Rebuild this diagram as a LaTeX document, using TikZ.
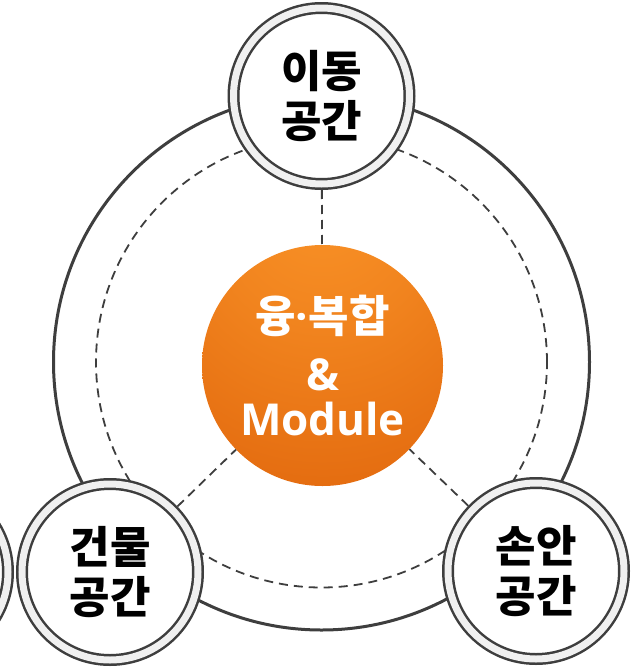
\documentclass[tikz,border=0pt]{standalone}
\usepackage{fontspec}
\usepackage{tikz}
\usetikzlibrary{positioning,calc}
\newfontfamily\krfont{Noto Sans CJK KR}
\newfontfamily\latinfont{Open Sans}
\definecolor{ringgray}{RGB}{62,62,62}
\definecolor{bandgray}{RGB}{240,240,240}
\definecolor{orgtop}{RGB}{250,148,40}
\definecolor{orgmid}{RGB}{228,108,16}
\definecolor{orgdark}{RGB}{198,86,8}
\pgfdeclareradialshading{orangeball}{\pgfpoint{0bp}{38bp}}{color(0bp)=(orgtop); color(22bp)=(orgtop!60!orgmid); color(48bp)=(orgmid); color(75bp)=(orgmid!70!orgdark); color(92bp)=(orgdark); color(110bp)=(orgdark)}

\begin{document}
\begin{tikzpicture}[x=1pt,y=-1pt,
  spacering/.style={circle,draw=ringgray,line width=2.5pt,double=bandgray,double distance=7pt,
    fill=white,minimum size=176pt,inner sep=0pt,outer sep=6pt,align=center,
    font=\krfont\bfseries\fontsize{44}{50}\selectfont},
  corenode/.style={circle,shade,shading=orangeball,minimum size=241pt,inner sep=0pt,
    align=center,text=white,font=\latinfont\bfseries\fontsize{44}{50}\selectfont},
  linkline/.style={draw=ringgray,line width=1.8pt,dash pattern=on 9pt off 6pt}]
  \useasboundingbox (0,0) rectangle (630,667);
  \draw[ringgray,line width=3pt] (321.5,362) circle (268pt);
  \draw[linkline] (321.5,362) circle (225.5pt);
  \node[corenode] (core) at (322.5,365.5)
    {{\krfont 융}·{\krfont 복합}\\[8pt] \&\\[-5pt] Module};
  \node[spacering] (mobile) at (321.5,96) {이동\\공간};
  \node[spacering] (building) at (110,572) {건물\\공간};
  \node[spacering] (handheld) at (536,571) {손안\\공간};
  \node[spacering] (offpage) at (-80,572) {};
  \draw[linkline] (mobile) -- (core);
  \draw[linkline] (building) -- (core);
  \draw[linkline] (handheld) -- (core);
\end{tikzpicture}
\end{document}
